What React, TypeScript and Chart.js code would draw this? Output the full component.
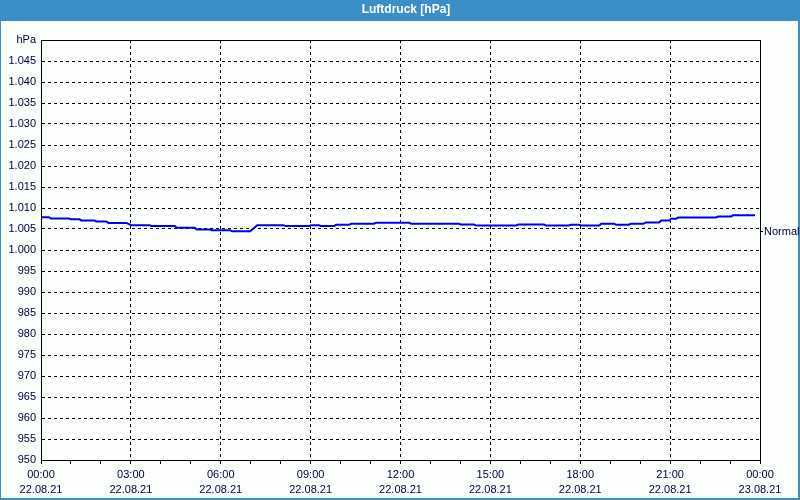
import React, { useEffect, useRef } from 'react';
import { Chart, registerables } from 'chart.js';

Chart.register(...registerables);

const chartTitle = 'Luftdruck [hPa]';
const yUnit = 'hPa';
const normalLabel = 'Normal';
const normalValue = 1004.3;

// minutes since 22.08.21 00:00
const minutes = [
  0, 16, 20, 56, 60, 77, 81, 107, 111, 131, 135, 171, 181, 218, 222, 268, 272, 308, 312, 338,
  342, 379, 383, 419, 433, 486, 490, 537, 541, 557, 561, 587, 591, 617, 621, 667, 671, 737, 741, 837,
  841, 867, 871, 952, 956, 1007, 1011, 1057, 1061, 1078, 1082, 1118, 1122, 1148, 1152, 1177, 1181, 1207, 1211, 1238,
  1242, 1258, 1262, 1272, 1276, 1352, 1356, 1382, 1386, 1430,
];
const pressure = [
  1007.8, 1007.8, 1007.5, 1007.5, 1007.3, 1007.3, 1007.05, 1007.05, 1006.8, 1006.8, 1006.45, 1006.45, 1005.9, 1005.9, 1005.7, 1005.7, 1005.3, 1005.3, 1004.9, 1004.9,
  1004.7, 1004.7, 1004.45, 1004.45, 1005.9, 1005.9, 1005.7, 1005.7, 1005.9, 1005.9, 1005.7, 1005.7, 1006.0, 1006.0, 1006.25, 1006.25, 1006.5, 1006.5, 1006.25, 1006.25,
  1006.1, 1006.1, 1005.85, 1005.85, 1006.1, 1006.1, 1005.85, 1005.85, 1006.0, 1006.0, 1005.85, 1005.85, 1006.25, 1006.25, 1006.0, 1006.0, 1006.25, 1006.25, 1006.55, 1006.55,
  1007.0, 1007.0, 1007.45, 1007.45, 1007.75, 1007.75, 1008.0, 1008.0, 1008.25, 1008.25,
];

const timeLabels = ['00:00', '03:00', '06:00', '09:00', '12:00', '15:00', '18:00', '21:00', '00:00'];
const dateLabels = ['22.08.21', '22.08.21', '22.08.21', '22.08.21', '22.08.21', '22.08.21', '22.08.21', '22.08.21', '23.08.21'];

const yMin = 950;
const yMax = 1050;
const yStep = 5;

const FONT = 'Liberation Sans';
const BAR_BLUE = '#3b8fc6';
const TEXT = '#00003c';

const framePlugin = {
  id: 'frame',
  beforeDraw(chart: any) {
    const { ctx, width, height } = chart;
    ctx.save();
    ctx.fillStyle = '#fcfefc';
    ctx.fillRect(0, 0, width, height);
    ctx.fillStyle = BAR_BLUE;
    ctx.fillRect(0, 0, width, 21);
    ctx.fillRect(0, 0, 1, height);
    ctx.fillRect(width - 2, 0, 2, height);
    ctx.fillRect(0, height - 2, width, 2);
    ctx.restore();
  },
  afterDraw(chart: any) {
    const { ctx, chartArea } = chart;
    ctx.save();
    ctx.setLineDash([]);
    ctx.strokeStyle = '#000';
    ctx.lineWidth = 1;
    const l = Math.round(chartArea.left) + 0.5;
    const t = Math.round(chartArea.top) + 0.5;
    const r = Math.round(chartArea.right) + 0.5;
    const b = Math.round(chartArea.bottom) + 0.5;
    ctx.strokeRect(l, t, r - l, b - t);
    ctx.restore();
  },
};

function formatPressure(v: number): string {
  if (v >= 1000) {
    return Math.floor(v / 1000) + '.' + String(Math.round(v % 1000)).padStart(3, '0');
  }
  return String(v);
}

export default function App() {
  const ref = useRef<HTMLCanvasElement | null>(null);

  useEffect(() => {
    if (!ref.current) return;
    const points = minutes.map((m, i) => ({ x: m, y: pressure[i] }));
    const chart = new Chart(ref.current, {
      type: 'line',
      data: {
        datasets: [
          {
            label: chartTitle,
            data: points,
            borderColor: '#0000ee',
            borderWidth: 2,
            pointRadius: 0,
            tension: 0,
            fill: false,
            xAxisID: 'x',
            yAxisID: 'y',
          },
        ],
      },
      options: {
        responsive: false,
        animation: false,
        devicePixelRatio: 1,
        layout: { padding: { left: 6, right: -6, top: 0, bottom: 0 } },
        plugins: {
          legend: { display: false },
          tooltip: { enabled: false },
          title: {
            display: true,
            text: chartTitle,
            color: '#ffffff',
            font: { family: FONT, size: 12, weight: 'bold', lineHeight: 1.2 },
            padding: { top: 2.8, bottom: 22.8 },
          },
        },
        scales: {
          x: {
            type: 'linear',
            min: 0,
            max: 1440,
            position: 'bottom',
            afterFit(scale: any) {
              scale.height = 40;
            },
            ticks: {
              stepSize: 60,
              autoSkip: false,
              maxRotation: 0,
              minRotation: 0,
              padding: 3,
              color: TEXT,
              font: { family: FONT, size: 11, lineHeight: 15 / 11 },
              callback(value: any) {
                const v = Number(value);
                if (v % 180 !== 0) return '';
                const i = v / 180;
                return [timeLabels[i], dateLabels[i]];
              },
            },
            grid: {
              color: (ctx: any) => (ctx.tick && ctx.tick.value % 180 === 0 ? '#000' : 'rgba(0,0,0,0)'),
              lineWidth: 1,
              drawTicks: true,
              tickLength: 4,
              tickColor: '#000',
            },
            border: { display: true, color: '#000', dash: [3, 3] },
          },
          y: {
            type: 'linear',
            position: 'left',
            min: yMin,
            max: yMax,
            afterFit(scale: any) {
              scale.width = 35;
            },
            ticks: {
              stepSize: yStep,
              autoSkip: false,
              padding: 5,
              color: TEXT,
              font: { family: FONT, size: 11 },
              callback(value: any) {
                const v = Number(value);
                if (v === yMax) return yUnit;
                return formatPressure(v);
              },
            },
            grid: {
              color: '#000',
              lineWidth: 1,
              drawTicks: false,
            },
            border: { display: true, color: '#000', dash: [3, 3] },
          },
          y2: {
            type: 'linear',
            position: 'right',
            display: true,
            min: yMin,
            max: yMax,
            afterBuildTicks(axis: any) {
              axis.ticks = [{ value: normalValue }];
            },
            afterFit(scale: any) {
              scale.width = 46;
            },
            ticks: {
              autoSkip: false,
              padding: 1,
              color: TEXT,
              font: { family: FONT, size: 11 },
              callback() {
                return normalLabel;
              },
            },
            grid: {
              drawOnChartArea: false,
              drawTicks: true,
              tickLength: 3,
              tickColor: '#000',
              color: '#000',
            },
            border: { display: true, color: '#000' },
          },
        },
      },
      plugins: [framePlugin],
    } as any);
    return () => chart.destroy();
  }, []);

  return (
    <div style={{ position: 'absolute', left: 0, top: 0, width: 800, height: 500 }}>
      <canvas ref={ref} width={800} height={500} />
    </div>
  );
}
